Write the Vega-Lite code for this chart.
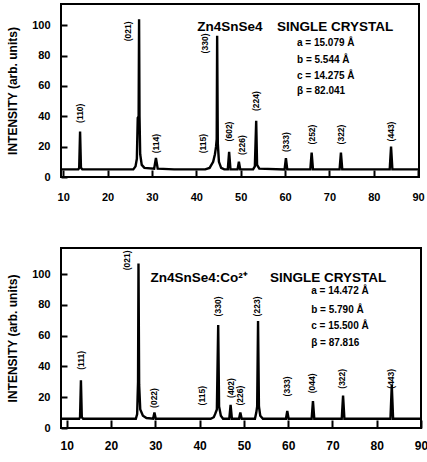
{
  "$schema": "https://vega.github.io/schema/vega-lite/v6.json",
  "padding": {"left": 5, "top": 3, "right": 6, "bottom": 4},
  "spacing": 44,
  "background": "white",
  "config": {
    "font": "Liberation Sans",
    "view": {"stroke": "black", "strokeWidth": 2},
    "axis": {"grid": false, "domain": false, "labelFont": "Liberation Sans", "labelFontWeight": "bold", "labelFontSize": 11, "labelColor": "black", "titleFont": "Liberation Sans", "titleFontWeight": "bold", "titleColor": "black"}
  },
  "datasets": {
    "topLine": [
      {"t": 9, "i": 5}, {"t": 13.4, "i": 5}, {"t": 13.6, "i": 6}, {"t": 13.8, "i": 30}, {"t": 14.0, "i": 6}, {"t": 14.3, "i": 5},
      {"t": 20, "i": 5}, {"t": 25.8, "i": 5}, {"t": 26.3, "i": 7}, {"t": 26.6, "i": 12}, {"t": 26.8, "i": 39}, {"t": 27.0, "i": 40}, {"t": 27.1, "i": 104}, {"t": 27.2, "i": 40}, {"t": 27.35, "i": 15}, {"t": 27.7, "i": 8}, {"t": 28.3, "i": 6},
      {"t": 30.5, "i": 5.5}, {"t": 30.9, "i": 12.5}, {"t": 31.3, "i": 5.5},
      {"t": 35, "i": 5}, {"t": 42.0, "i": 5}, {"t": 43.0, "i": 6}, {"t": 43.8, "i": 10}, {"t": 44.2, "i": 15}, {"t": 44.45, "i": 20}, {"t": 44.6, "i": 25}, {"t": 44.7, "i": 93}, {"t": 44.85, "i": 22}, {"t": 45.1, "i": 10}, {"t": 45.6, "i": 6}, {"t": 46.3, "i": 5},
      {"t": 47.1, "i": 5}, {"t": 47.4, "i": 16.5}, {"t": 47.7, "i": 5},
      {"t": 49.3, "i": 5}, {"t": 49.6, "i": 10}, {"t": 49.9, "i": 5},
      {"t": 52.8, "i": 5}, {"t": 53.2, "i": 7}, {"t": 53.5, "i": 37}, {"t": 53.7, "i": 8}, {"t": 54.2, "i": 5.5},
      {"t": 59.9, "i": 5}, {"t": 60.2, "i": 12.5}, {"t": 60.5, "i": 5},
      {"t": 65.7, "i": 5}, {"t": 66.0, "i": 16}, {"t": 66.3, "i": 5},
      {"t": 72.3, "i": 5}, {"t": 72.6, "i": 16}, {"t": 72.9, "i": 5},
      {"t": 83.6, "i": 5}, {"t": 83.9, "i": 20}, {"t": 84.2, "i": 5},
      {"t": 90.2, "i": 5}
    ],
    "bottomLine": [
      {"t": 8.7, "i": 6}, {"t": 12.8, "i": 6}, {"t": 13.0, "i": 7}, {"t": 13.2, "i": 31}, {"t": 13.4, "i": 7}, {"t": 13.7, "i": 6},
      {"t": 17, "i": 6}, {"t": 25.6, "i": 6}, {"t": 25.9, "i": 9}, {"t": 26.0, "i": 20}, {"t": 26.1, "i": 30}, {"t": 26.2, "i": 107}, {"t": 26.35, "i": 28}, {"t": 26.6, "i": 12}, {"t": 27.2, "i": 8}, {"t": 28, "i": 6.5},
      {"t": 29.5, "i": 6}, {"t": 29.8, "i": 10}, {"t": 30.1, "i": 6},
      {"t": 42.5, "i": 6}, {"t": 43.2, "i": 7}, {"t": 43.5, "i": 9}, {"t": 43.9, "i": 12}, {"t": 44.2, "i": 67}, {"t": 44.4, "i": 14}, {"t": 44.8, "i": 8}, {"t": 45.3, "i": 6},
      {"t": 46.7, "i": 6}, {"t": 47.0, "i": 15}, {"t": 47.3, "i": 6},
      {"t": 48.9, "i": 6}, {"t": 49.2, "i": 10}, {"t": 49.5, "i": 6},
      {"t": 52.5, "i": 6}, {"t": 52.8, "i": 10}, {"t": 53.0, "i": 14}, {"t": 53.2, "i": 69.5}, {"t": 53.4, "i": 14}, {"t": 53.7, "i": 8}, {"t": 54.3, "i": 6},
      {"t": 59.5, "i": 6}, {"t": 59.8, "i": 11}, {"t": 60.1, "i": 6},
      {"t": 65.3, "i": 6}, {"t": 65.6, "i": 17.5}, {"t": 65.9, "i": 6},
      {"t": 72.1, "i": 6}, {"t": 72.4, "i": 21}, {"t": 72.7, "i": 6},
      {"t": 83.1, "i": 6}, {"t": 83.4, "i": 28}, {"t": 83.7, "i": 6},
      {"t": 90, "i": 6}
    ],
    "topHkl": [
      {"t": 13.8, "i": 42, "label": "(110)"},
      {"t": 24.6, "i": 96, "label": "(021)"},
      {"t": 30.9, "i": 22, "label": "(114)"},
      {"t": 41.5, "i": 22, "label": "(115)"},
      {"t": 42.0, "i": 88, "label": "(330)"},
      {"t": 47.4, "i": 30, "label": "(602)"},
      {"t": 50.3, "i": 21, "label": "(226)"},
      {"t": 53.5, "i": 50, "label": "(224)"},
      {"t": 60.2, "i": 23, "label": "(333)"},
      {"t": 66.1, "i": 28, "label": "(252)"},
      {"t": 72.6, "i": 28, "label": "(322)"},
      {"t": 83.9, "i": 30, "label": "(443)"}
    ],
    "bottomHkl": [
      {"t": 13.2, "i": 44, "label": "(111)"},
      {"t": 23.5, "i": 109, "label": "(021)"},
      {"t": 29.8, "i": 19.5, "label": "(022)"},
      {"t": 40.6, "i": 21, "label": "(115)"},
      {"t": 44.2, "i": 79, "label": "(330)"},
      {"t": 47.0, "i": 26, "label": "(402)"},
      {"t": 49.2, "i": 21, "label": "(226)"},
      {"t": 53.0, "i": 79, "label": "(223)"},
      {"t": 59.8, "i": 27, "label": "(333)"},
      {"t": 65.4, "i": 29, "label": "(044)"},
      {"t": 72.2, "i": 32, "label": "(322)"},
      {"t": 83.2, "i": 32, "label": "(443)"}
    ],
    "topTitle": [
      {"t": 40.2, "i": 99, "label": "Zn4SnSe4"},
      {"t": 58.2, "i": 99, "label": "SINGLE CRYSTAL"}
    ],
    "topParams": [
      {"t": 62.7, "i": 88, "label": "a = 15.079 Å"},
      {"t": 62.7, "i": 77, "label": "b = 5.544 Å"},
      {"t": 62.7, "i": 66.5, "label": "c = 14.275 Å"},
      {"t": 62.7, "i": 56.6, "label": "β = 82.041"}
    ],
    "bottomTitle": [
      {"t": 28.9, "i": 97.4, "label": "Zn4SnSe4:Co²⁺"},
      {"t": 55.9, "i": 97.4, "label": "SINGLE CRYSTAL"}
    ],
    "bottomParams": [
      {"t": 65.2, "i": 89, "label": "a = 14.472 Å"},
      {"t": 65.2, "i": 77, "label": "b = 5.790 Å"},
      {"t": 65.2, "i": 66, "label": "c = 15.500 Å"},
      {"t": 65.2, "i": 55, "label": "β = 87.816"}
    ]
  },
  "vconcat": [
    {
      "width": 358,
      "height": 173,
      "encoding": {
        "x": {"field": "t", "type": "quantitative", "scale": {"domain": [9.5, 90.2], "nice": false, "zero": false}, "axis": {"title": null, "values": [10, 20, 30, 40, 50, 60, 70, 80, 90], "offset": -7, "tickSize": 7, "tickColor": "black", "tickWidth": 2, "labelPadding": 14, "labelFlush": false}},
        "y": {"field": "i", "type": "quantitative", "scale": {"domain": [0, 114], "nice": false}, "axis": {"title": "INTENSITY (arb. units)", "titleFontSize": 12, "values": [0, 20, 40, 60, 80, 100], "offset": -6, "tickSize": 6, "tickColor": "black", "tickWidth": 2, "labelPadding": 11, "titlePadding": 12}}
      },
      "layer": [
        {"data": {"name": "topLine"}, "mark": {"type": "line", "color": "black", "strokeWidth": 2.4, "clip": true}},
        {"data": {"name": "topHkl"}, "mark": {"type": "text", "angle": 270, "fontSize": 8.5, "fontWeight": "bold", "color": "black", "align": "center", "baseline": "middle"}, "encoding": {"text": {"field": "label"}}},
        {"data": {"name": "topTitle"}, "mark": {"type": "text", "fontSize": 13.5, "fontWeight": "bold", "color": "black", "align": "left", "baseline": "middle"}, "encoding": {"text": {"field": "label"}}},
        {"data": {"name": "topParams"}, "mark": {"type": "text", "fontSize": 10, "fontWeight": "bold", "color": "black", "align": "left", "baseline": "middle"}, "encoding": {"text": {"field": "label"}}}
      ]
    },
    {
      "width": 360,
      "height": 180,
      "encoding": {
        "x": {"field": "t", "type": "quantitative", "scale": {"domain": [8.7, 90], "nice": false, "zero": false}, "axis": {"title": null, "values": [10, 20, 30, 40, 50, 60, 70, 80, 90], "offset": -8, "tickSize": 8, "tickColor": "black", "tickWidth": 2, "labelPadding": 12, "labelFlush": false, "labelFontSize": 12}},
        "y": {"field": "i", "type": "quantitative", "scale": {"domain": [0, 117], "nice": false}, "axis": {"title": "INTENSITY (arb. units)", "titleFontSize": 12, "values": [0, 20, 40, 60, 80, 100], "offset": -6, "tickSize": 6, "tickColor": "black", "tickWidth": 2, "labelPadding": 11, "titlePadding": 12}}
      },
      "layer": [
        {"data": {"name": "bottomLine"}, "mark": {"type": "line", "color": "black", "strokeWidth": 2.4, "clip": true}},
        {"data": {"name": "bottomHkl"}, "mark": {"type": "text", "angle": 270, "fontSize": 8.5, "fontWeight": "bold", "color": "black", "align": "center", "baseline": "middle"}, "encoding": {"text": {"field": "label"}}},
        {"data": {"name": "bottomTitle"}, "mark": {"type": "text", "fontSize": 13.5, "fontWeight": "bold", "color": "black", "align": "left", "baseline": "middle"}, "encoding": {"text": {"field": "label"}}},
        {"data": {"name": "bottomParams"}, "mark": {"type": "text", "fontSize": 10, "fontWeight": "bold", "color": "black", "align": "left", "baseline": "middle"}, "encoding": {"text": {"field": "label"}}}
      ]
    }
  ]
}
